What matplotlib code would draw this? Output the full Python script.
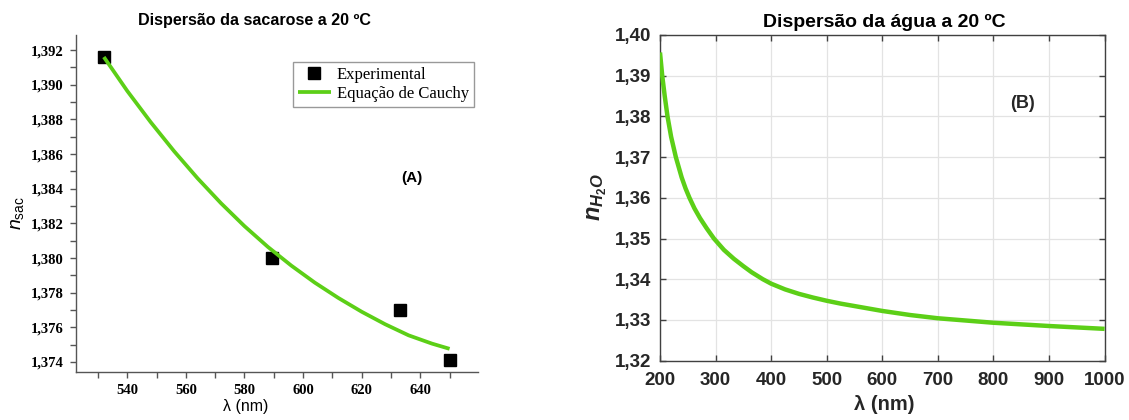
import matplotlib
matplotlib.use("Agg")
import matplotlib.pyplot as plt
from matplotlib.ticker import MultipleLocator, FuncFormatter

plt.rcParams['font.family'] = ['Liberation Sans', 'DejaVu Sans']
plt.rcParams['mathtext.fontset'] = 'custom'
plt.rcParams['mathtext.rm'] = 'Liberation Sans'
plt.rcParams['mathtext.it'] = 'Liberation Sans:italic'
plt.rcParams['mathtext.bf'] = 'Liberation Sans:bold'
plt.rcParams['mathtext.bfit'] = 'Liberation Sans:italic:bold'

# --- Sucrose: measured indices and Cauchy fit curve ---
lam_exp = [532.0, 589.3, 633.0, 650.0]
n_exp = [1.3916, 1.3800, 1.3770, 1.3741]

lam_fit = [532, 540, 548, 556, 564, 572, 580, 588, 596, 604, 612, 620,
           628, 636, 644, 650]
n_fit = [1.39160, 1.38964, 1.38784, 1.38616, 1.38460, 1.38316, 1.38184,
         1.38064, 1.37956, 1.37858, 1.37770, 1.37690, 1.37618, 1.37554,
         1.37506, 1.37476]

# --- Water: Cauchy dispersion curve ---
lam_w = [200, 204, 208.5, 213.5, 220, 228.5, 239, 246, 253, 262, 272, 284,
         297, 315, 333, 350, 365, 385, 400, 425, 450, 475, 500, 525, 550,
         575, 600, 650, 700, 800, 900, 1000]
n_w = [1.3957, 1.3900, 1.3850, 1.3800, 1.3750, 1.3700, 1.3650, 1.3623,
       1.3600, 1.3574, 1.3550, 1.3525, 1.3500, 1.3472, 1.3450, 1.3432,
       1.3417, 1.3400, 1.3389, 1.3375, 1.3364, 1.3355, 1.3347, 1.3340,
       1.3334, 1.3328, 1.3322, 1.3312, 1.3304, 1.3293, 1.3285, 1.3278]

GREEN = '#5ccf17'
W, H = 1129, 420

fig = plt.figure(figsize=(W / 100, H / 100), dpi=100)


def px_axes(x0, y0, x1, y1):
    return fig.add_axes([x0 / W, 1 - y1 / H, (x1 - x0) / W, (y1 - y0) / H])


def comma(fmt):
    return FuncFormatter(lambda v, p: format(v, fmt).replace('.', ','))


# ---------------- Panel A ----------------
axA = px_axes(76, 35, 478, 371.7)
axA.plot(lam_fit, n_fit, color=GREEN, lw=2.7, solid_capstyle='butt',
         solid_joinstyle='round', label='Equação de Cauchy', zorder=3)
axA.plot(lam_exp, n_exp, 's', color='black', ms=8.8, ls='none',
         label='Experimental', zorder=2)
axA.set_xlim(522.5, 659.7)
axA.set_ylim(1.37344, 1.39287)
for s in ('top', 'right'):
    axA.spines[s].set_visible(False)
for s in ('left', 'bottom'):
    axA.spines[s].set_color('#555555')
    axA.spines[s].set_linewidth(1.0)
axA.xaxis.set_major_locator(MultipleLocator(20))
axA.xaxis.set_minor_locator(MultipleLocator(10))
axA.yaxis.set_major_locator(MultipleLocator(0.002))
axA.yaxis.set_minor_locator(MultipleLocator(0.001))
axA.yaxis.set_major_formatter(comma('.3f'))
axA.tick_params(which='both', direction='out', length=4, width=1,
                color='#555555', pad=5)
for lab in axA.get_xticklabels() + axA.get_yticklabels():
    lab.set_fontfamily('Liberation Serif')
    lab.set_fontweight('bold')
    lab.set_fontsize(10.5)

h, l = axA.get_legend_handles_labels()
leg = axA.legend([h[1], h[0]], [l[1], l[0]], loc='upper right',
                 bbox_to_anchor=(0.990, 0.919), borderaxespad=0,
                 fancybox=False, edgecolor='#999999', framealpha=1,
                 prop={'family': 'Liberation Serif', 'size': 12},
                 handlelength=2.0, handletextpad=0.35, borderpad=0.3,
                 labelspacing=0.15)
leg.get_frame().set_linewidth(1.0)

fig.text(255 / W, 1 - 20 / H, 'Dispersão da sacarose a 20 ºC',
         ha='center', va='center', fontsize=11.6, fontweight='bold')
fig.text(246 / W, 1 - 407 / H, 'λ (nm)', ha='center', va='center',
         fontsize=11.5)
fig.text(17 / W, 1 - 213 / H, r'$\mathit{n}_{\mathrm{sac}}$', ha='center',
         va='center', rotation=90, fontsize=14)
fig.text(412 / W, 1 - 178 / H, '(A)', ha='center', va='center',
         fontsize=11, fontweight='bold')

# ---------------- Panel B ----------------
axB = px_axes(660, 35, 1104.6, 360.6)
axB.plot(lam_w, n_w, color=GREEN, lw=3.2, solid_capstyle='butt',
         solid_joinstyle='round', zorder=3)
axB.set_xlim(200, 1000)
axB.set_ylim(1.32, 1.40)
axB.xaxis.set_major_locator(MultipleLocator(100))
axB.yaxis.set_major_locator(MultipleLocator(0.01))
axB.yaxis.set_major_formatter(comma('.2f'))
axB.grid(True, color='#e3e3e3', lw=0.9)
axB.set_axisbelow(True)
for s in axB.spines.values():
    s.set_color('#404040')
    s.set_linewidth(1.0)
axB.tick_params(which='both', direction='in', length=4, width=1,
                color='#404040', top=True, right=True, pad=6,
                labelsize=13.5)
axB.tick_params(axis='x', pad=8)
for lab in axB.get_xticklabels() + axB.get_yticklabels():
    lab.set_fontweight('bold')
    lab.set_color('#262626')

fig.text(884 / W, 1 - 22 / H, 'Dispersão da água a 20 ºC',
         ha='center', va='center', fontsize=14, fontweight='bold')
fig.text(884 / W, 1 - 405 / H, 'λ (nm)', ha='center', va='center',
         fontsize=14.5, fontweight='bold', color='#262626')
fig.text(597 / W, 1 - 197 / H,
         r'$\boldsymbol{n}_{\boldsymbol{H}_{\mathbf{2}}\boldsymbol{O}}$',
         ha='center', va='center', rotation=90, fontsize=17, color='#262626')
fig.text(1022 / W, 1 - 103 / H, '(B)', ha='center', va='center',
         fontsize=13, fontweight='bold', color='#262626')

fig.savefig('out.png', dpi=100)
